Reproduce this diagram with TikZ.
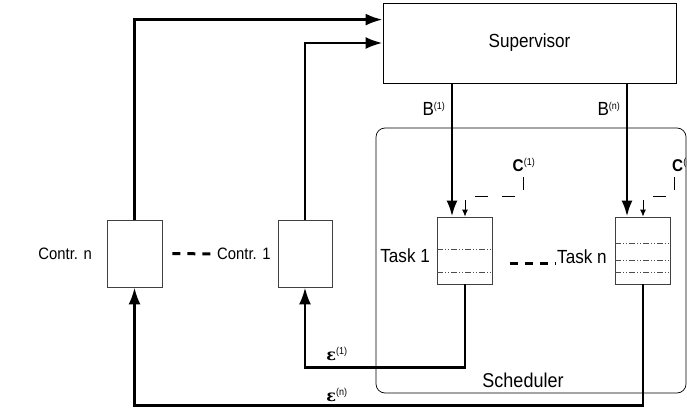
\documentclass[tikz,border=0pt]{standalone}
\usepackage{fontspec}
\setmainfont{Liberation Sans}[FakeStretch=0.9]
\newfontfamily\epsfont{DejaVu Serif}
\usetikzlibrary{positioning}
\usetikzlibrary{arrows.meta}
\newcommand{\sups}[1]{\textsuperscript{\fontsize{10}{10}\selectfont\mdseries #1}}
\newcommand{\eps}{{\epsfont\bfseries ε}}

\begin{document}
\begin{tikzpicture}[x=1pt,y=-1pt,
blocco/.style={draw,line width=0.8pt,minimum width=293pt,minimum height=80pt,font=\fontsize{19}{19}\selectfont},
cella/.style={draw=black!75,line width=0.8pt,minimum width=55pt,minimum height=67pt},
testo/.style={inner sep=1pt,font=\fontsize{19}{19}\selectfont},
freccia/.style={line width=2.7pt,-{Latex[length=16pt,width=11pt]}},
ritorno/.style={line width=2.7pt,-{Latex[length=17pt,width=12pt]}},
tratto/.style={line width=3pt,dash pattern=on 8pt off 7pt},
comando/.style={line width=0.9pt,dash pattern=on 13pt off 14pt,-{Latex[length=7pt,width=6pt]}},
riga/.style={draw=black!70,line width=0.5pt,dash pattern=on 6pt off 2pt on 1pt off 2pt on 1pt off 2pt}
]
\useasboundingbox (0,0) rectangle (687,409);
%--
\node[blocco](sup) at (529.5,43){Supervisor};
\draw[rounded corners=9pt,line width=0.7pt] (376,128) rectangle (686,393);
\node[testo,font=\fontsize{20}{20}\selectfont](sch) at (523,380){Scheduler};
%--
\node[cella](t1) at (465,250.5){};
\node[cella](tn) at (643,250.5){};
\node[testo,anchor=east](lt1) at (431,256){Task 1};
\node[testo,anchor=west](ltn) at (556,257){Task n};
\draw[riga] ([yshift=1.5pt]t1.west) -- ([yshift=1.5pt]t1.east);
\draw[riga] ([yshift=-21.5pt]t1.west) -- ([yshift=-21.5pt]t1.east);
\draw[riga] ([yshift=7.5pt]tn.west) -- ([yshift=7.5pt]tn.east);
\draw[riga] ([yshift=-9.5pt]tn.west) -- ([yshift=-9.5pt]tn.east);
\draw[riga] ([yshift=-21.5pt]tn.west) -- ([yshift=-21.5pt]tn.east);
\draw[tratto] ([xshift=17pt]t1.east |- ltn.base) -- (ltn.base west);
%--
\node[cella](cn) at (134.5,253.5){};
\node[cella,minimum width=54pt](c1) at (305,253.5){};
\node[testo,anchor=east,font=\fontsize{16.5}{16.5}\selectfont](lcn) at (93,254){Contr. n};
\node[testo,anchor=west,font=\fontsize{16.5}{16.5}\selectfont](lc1) at (216,254){Contr. 1};
\draw[tratto] ([xshift=10pt]cn.east) -- (lc1.west);
%-- supervisore -> task
\draw[freccia] ([xshift=-13pt]t1.north |- sup.south) -- ([xshift=-13pt]t1.north);
\draw[freccia] ([xshift=-16pt]tn.north |- sup.south) -- ([xshift=-16pt]tn.north);
\node[testo](b1) at (434,109){B\sups{(1)}};
\node[testo](bn) at (609,109){B\sups{(n)}};
%-- comandi
\node[testo,font=\bfseries\fontsize{17}{17}\selectfont](cl1) at (524,165){C\sups{(1)}};
\node[testo,anchor=west,font=\bfseries\fontsize{17}{17}\selectfont](cln) at (671,165){C\sups{(n)}};
\coordinate (cs1) at (523,177);
\coordinate (csn) at (674,177);
\draw[comando] (cs1) -- ++(0,19) -| (t1.north);
\draw[comando] (csn) -- ++(0,19) -| (tn.north);
%-- ritorni
\draw[ritorno] (t1.south) -- ++(0,83) -| (c1.south);
\draw[ritorno] (tn.south) -- ++(0,121) -| (cn.south);
\node[testo,font=\fontsize{16}{16}\selectfont](e1) at (337,354){\eps\sups{(1)}};
\node[testo,font=\fontsize{16}{16}\selectfont](en) at (337,395){\eps\sups{(n)}};
%-- controllori -> supervisore
\draw[ritorno] (cn.north) |- ([yshift=-17pt]sup.north west);
\draw[ritorno] (c1.north) |- (sup.west);
\end{tikzpicture}
\end{document}
